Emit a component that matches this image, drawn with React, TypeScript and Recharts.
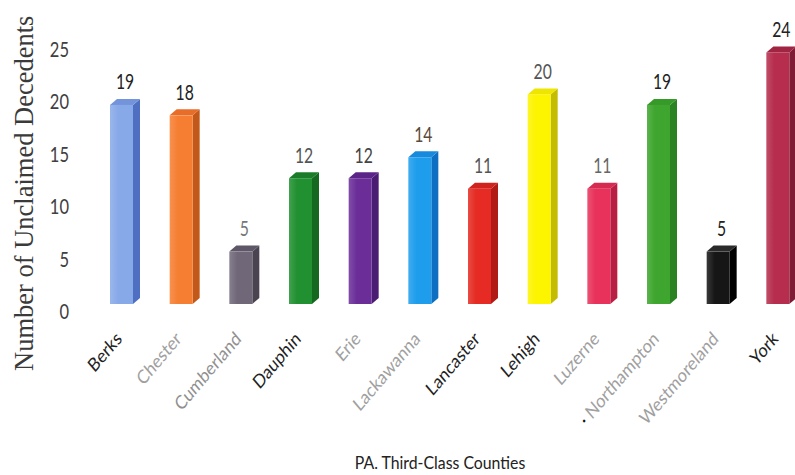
import React from 'react';
import { BarChart, Bar, XAxis, YAxis } from 'recharts';

const counties = ['Berks', 'Chester', 'Cumberland', 'Dauphin', 'Erie', 'Lackawanna', 'Lancaster', 'Lehigh', 'Luzerne', 'Northampton', 'Westmoreland', 'York'];
const decedents = [19, 18, 5, 12, 12, 14, 11, 20, 11, 19, 5, 24];
const yTicks = [0, 5, 10, 15, 20, 25];

const data = counties.map((c, i) => ({ county: c, value: decedents[i] }));

const FRONT = ['#88a9e8', '#f67e32', '#706879', '#209030', '#6b2e99', '#1e9ded', '#e52b23', '#fdf400', '#e8325b', '#3ea52e', '#161616', '#b62d4d'];
const SIDE = ['#4f70c2', '#c2591a', '#4a4451', '#146820', '#4a1c72', '#0e6ec2', '#b01b15', '#c4bc00', '#b81f42', '#2a8222', '#000000', '#7e1c35'];
const TOP = ['#7393da', '#e86d28', '#5d5767', '#1a7c29', '#5b2588', '#178ade', '#d1231d', '#eee600', '#d62a51', '#369a29', '#2a2a2a', '#a02542'];
const LABEL_COLORS = ['#222', '#222', '#777', '#555', '#444', '#5a4a3a', '#555', '#555', '#666', '#222', '#222', '#222'];
const TICK_COLORS = ['#222', '#a0a0a0', '#909090', '#222', '#a0a0a0', '#a0a0a0', '#222', '#222', '#a0a0a0', '#a0a0a0', '#a0a0a0', '#222'];

const SText = ({ x, y, s = 1, angle = 0, size, fill, family = 'Lato', anchor = 'middle', children }: any) => (
  <text
    transform={`translate(${x},${y}) scale(${s},1) rotate(${angle})`}
    x={0}
    y={0}
    textAnchor={anchor}
    fontSize={size}
    fill={fill}
    fontFamily={family}
  >
    {children}
  </text>
);

const DX = 7;
const DY = 6;

const Bar3D = (props: any) => {
  const { x, y, width, height, index, payload } = props;
  const i = index ?? 0;
  const gid = `g3d-${i}`;
  const front = FRONT[i];
  const side = SIDE[i];
  const top = TOP[i];
  return (
    <g>
      <defs>
        <linearGradient id={gid} x1="0" y1="0" x2="1" y2="0">
          <stop offset="0%" stopColor={front} stopOpacity={0.85} />
          <stop offset="35%" stopColor={front} />
          <stop offset="100%" stopColor={front} />
        </linearGradient>
      </defs>
      <polygon
        points={`${x + width},${y} ${x + width + DX},${y - DY} ${x + width + DX},${y + height - DY} ${x + width},${y + height}`}
        fill={side}
      />
      <polygon
        points={`${x},${y} ${x + DX},${y - DY} ${x + width + DX},${y - DY} ${x + width},${y}`}
        fill={top}
      />
      <rect x={x} y={y} width={width} height={height} fill={`url(#${gid})`} />
      <SText x={x + (width + DX) / 2} y={y - 15.5} s={0.75} size={21} fill={LABEL_COLORS[i]}>
        {payload.value}
      </SText>
    </g>
  );
};

const XTick = (props: any) => {
  const { x, y, payload } = props;
  const i = payload.index;
  const label = payload.value;
  return (
    <SText x={x + 1} y={y + 36} s={0.85} angle={-45} size={19} fill={TICK_COLORS[i]} anchor="end">
      {label === 'Northampton' ? (
        <>
          <tspan fill="#111">·</tspan>
          <tspan>{'   ' + label}</tspan>
        </>
      ) : (
        label
      )}
    </SText>
  );
};

const YTick = (props: any) => {
  const { x, y, payload } = props;
  return (
    <SText x={x} y={y + 15} s={0.75} size={22} fill="#404040" anchor="end">
      {payload.value}
    </SText>
  );
};

export default function App() {
  return (
    <div style={{ position: 'absolute', left: 0, top: 0, width: 795, height: 475, overflow: 'hidden', background: '#fff' }}>
      <BarChart width={830} height={475} data={data} margin={{ top: 42, right: 22, left: 0, bottom: 0 }}>
        <XAxis
          dataKey="county"
          height={171}
          axisLine={false}
          tickLine={false}
          tickSize={0}
          tickMargin={0}
          interval={0}
          tick={<XTick />}
          label={() => (
            <SText x={440} y={469} s={0.88} size={18} fill="#222">
              PA. Third-Class Counties
            </SText>
          )}
        />
        <YAxis
          width={92}
          domain={[0, 25]}
          ticks={yTicks}
          axisLine={false}
          tickLine={false}
          tickSize={0}
          tickMargin={23}
          tick={<YTick />}
          label={() => (
            <text
              transform="translate(33,371) rotate(-90)"
              x={0}
              y={0}
              textAnchor="start"
              fontSize={26.5}
              fill="#3a3a3a"
              fontFamily="Liberation Serif"
            >
              Number of Unclaimed Decedents
            </text>
          )}
        />
        <Bar dataKey="value" barSize={23} isAnimationActive={false} shape={<Bar3D />} />
      </BarChart>
    </div>
  );
}
